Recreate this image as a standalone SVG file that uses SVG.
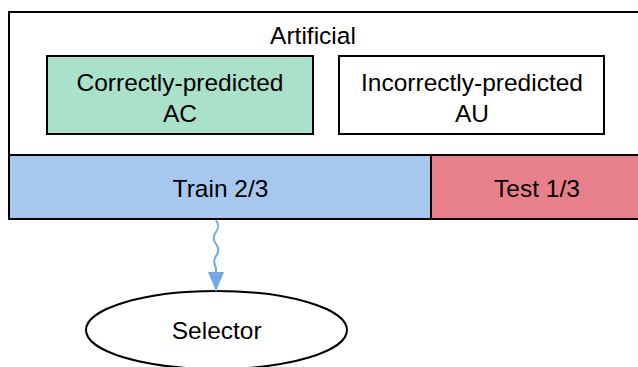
<svg xmlns="http://www.w3.org/2000/svg" width="638" height="367" viewBox="0 0 638 367">
<style>
.box{stroke:#000;stroke-width:2}
.t{font-family:"Liberation Sans",Arial,sans-serif;font-size:24.5px;fill:#000;text-anchor:middle}
.conn{fill:none;stroke:#6fa8e8;stroke-width:2}
</style>
<defs>
<marker id="ah" markerWidth="19" markerHeight="16" refX="19" refY="8" orient="auto" markerUnits="userSpaceOnUse" viewBox="0 0 19 16">
<path d="M0,0 L19,8 L0,16 Z" fill="#6fa8e8"/>
</marker>
</defs>
<g id="artificial">
<rect class="box" x="9" y="12" width="640" height="207" fill="#fff"/>
<text class="t" x="313" y="44">Artificial</text>
</g>
<g id="ac">
<rect class="box" x="47" y="56" width="266" height="78" fill="#a9e1cb"/>
<text class="t" x="180" y="91">Correctly-predicted</text>
<text class="t" x="180" y="122">AC</text>
</g>
<g id="au">
<rect class="box" x="339" y="56" width="265" height="78" fill="#fff"/>
<text class="t" x="472" y="91">Incorrectly-predicted</text>
<text class="t" x="472" y="122">AU</text>
</g>
<g id="train">
<rect class="box" x="9" y="155" width="422" height="64" fill="#a6c8ef"/>
<text class="t" x="220.5" y="197">Train 2/3</text>
</g>
<g id="test">
<rect class="box" x="431" y="155" width="218" height="64" fill="#e8808c"/>
<text class="t" x="537" y="197">Test 1/3</text>
</g>
<g id="selector">
<ellipse cx="216.5" cy="330" rx="130.5" ry="39" fill="#fff" stroke="#000" stroke-width="2"/>
<text class="t" x="216.7" y="339">Selector</text>
</g>
<g id="connectors">
<path class="conn" marker-end="url(#ah)" d="M216,220 C219,225 219,228 216,232 C213,236 213,240 216,244 C219,248 219,252 216,256 C213,260 214,264 216,268 L216,291"/>
</g>
</svg>
